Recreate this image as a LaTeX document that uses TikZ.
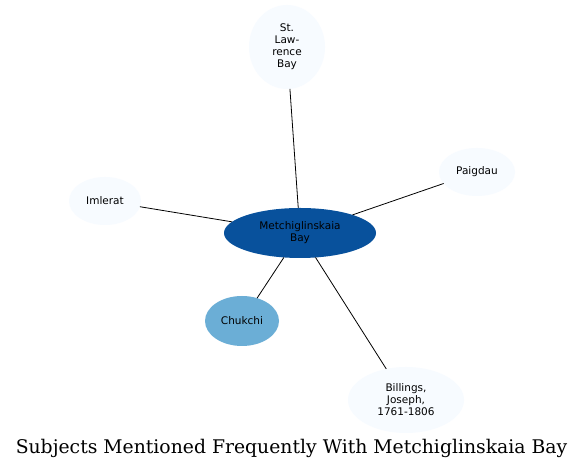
\documentclass[tikz,border=0pt]{standalone}
\usepackage{fontspec}
\setmainfont{DejaVu Sans}
\newfontfamily\titlefont{DejaVu Serif}
\usetikzlibrary{shapes.geometric}
\definecolor{pale}{HTML}{F7FBFF}
\definecolor{mid}{HTML}{6BAED6}
\definecolor{dark}{HTML}{08519C}
\begin{document}
\begin{tikzpicture}[x=1pt,y=1pt,
  subj/.style={ellipse,inner sep=0pt,outer sep=0pt,align=center,
    font=\fontsize{10.5}{12}\selectfont,text=black},
  edge/.style={draw=black,line width=0.8pt}]
\useasboundingbox (0,0) rectangle (584,470);
\fill[white] (0,0) rectangle (584,470);
\node[subj,fill=dark,minimum width=152pt,minimum height=50pt] (c) at (300,237) {Metchiglinskaia\\Bay};
\node[subj,fill=pale,minimum width=76pt,minimum height=84pt] (s) at (287,423) {St.\\Law-\\rence\\Bay};
\node[subj,fill=pale,minimum width=76pt,minimum height=48pt] (p) at (477,298) {Paigdau};
\node[subj,fill=pale,minimum width=72pt,minimum height=48pt] (i) at (105,269) {Imlerat};
\node[subj,fill=mid,minimum width=74pt,minimum height=50pt] (k) at (242,149) {Chukchi};
\node[subj,fill=pale,minimum width=116pt,minimum height=66pt] (b) at (406,70) {Billings,\\Joseph,\\1761-1806};
\draw[edge] (c) -- (s);
\draw[edge] (c) -- (p);
\draw[edge] (c) -- (i);
\draw[edge] (c) -- (k);
\draw[edge] (c) -- (b);
\node[font=\titlefont\fontsize{18.8}{21}\selectfont,inner sep=0pt,anchor=base] (t) at (291.5,16) {Subjects Mentioned Frequently With Metchiglinskaia Bay};
\end{tikzpicture}
\end{document}
